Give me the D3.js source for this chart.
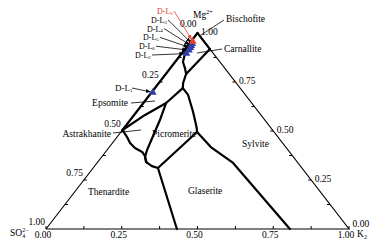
<!DOCTYPE html>
<html><head><meta charset="utf-8">
<script src="https://cdn.jsdelivr.net/npm/d3@7"></script>
<style>
body{margin:0;background:#fff}
svg{display:block}
text{font-family:"Liberation Serif","Times New Roman",serif;font-size:9.5px;fill:#000}
</style>
</head><body><svg id="c" width="385" height="248"></svg>
<script>
// ---- data (Jänecke ternary: K2 fraction, Mg2+ fraction) ----
const majorTicks = [0, 0.25, 0.5, 0.75, 1];
const minorTicks = [0.125, 0.375, 0.625, 0.875];
const bottomLabels = ["0.00", "0.25", "0.50", "0.75", "1.00"];   // K2, SO4 corner -> K2 corner
const leftLabels = ["1.00", "0.75", "0.50", "0.25", "0.00"];     // SO4, SO4 corner -> apex
const rightLabels = ["0.00", "0.25", "0.50", "0.75", "1.00"];    // Mg, K2 corner -> apex

const bndLeftEdge   = [[0, 1], [0, 0.505]];
const bndRightEdge  = [[0, 1], [0.082, 0.918]];
const bndCarnSylv   = [[0.082, 0.918], [0.067, 0.791]];
const bndEpsVert    = [[0, 0.93], [0.010, 0.898], [0.026, 0.852], [0.048, 0.821], [0.067, 0.791], [0.080, 0.745], [0.092, 0.719]];
const bndEpsPicro   = [[0.092, 0.719], [0.075, 0.643], [0.036, 0.582], [0, 0.505]];
const bndPicroLeft  = [[0.075, 0.643], [0.098, 0.556], [0.132, 0.403], [0.143, 0.367], [0.162, 0.340]];
const bndAstrak     = [[0, 0.505], [0.033, 0.469], [0.058, 0.439], [0.087, 0.413], [0.121, 0.393], [0.141, 0.372], [0.159, 0.342], [0.189, 0.321], [0.214, 0.311]];
const bndPicroRight = [[0.092, 0.719], [0.127, 0.684], [0.187, 0.597], [0.240, 0.515], [0.251, 0.495]];
const bndPicroLow   = [[0.214, 0.311], [0.251, 0.495]];
const bndGlasLeft   = [[0.214, 0.311], [0.228, 0.291], [0.432, 0]];
const bndGlasRight  = [[0.251, 0.495], [0.335, 0.418], [0.449, 0.337], [0.805, 0]];

const ptNames = ["D-L0", "D-L3", "D-L4", "D-L5", "D-L6", "D-L2", "D-L1"];
const ptK     = [0.006, 0.010, 0.012, 0.014, 0.016, 0.016, 0.004];
const ptMg    = [0.957, 0.945, 0.935, 0.925, 0.912, 0.895, 0.697];

const regionNames = ["Bischofite", "Carnallite", "Epsomite", "Astrakhanite", "Picromerite", "Thenardite", "Glaserite", "Sylvite"];

// ---- layout ----
const svg = d3.select("#c");
const x = d3.scaleLinear().domain([0, 1]).range([46, 349]);
const y = d3.scaleLinear().domain([0, 1]).range([229, 33]);
const px = (k, m) => x(k + m / 2);
const py = (k, m) => y(m);
const line = d3.line().x(d => px(d[0], d[1])).y(d => py(d[0], d[1]));

const defs = svg.append("defs");
function arrowDef(id, col) {
  defs.append("marker").attr("id", id).attr("viewBox", "0 0 10 10")
    .attr("refX", 9).attr("refY", 5).attr("markerWidth", 5).attr("markerHeight", 5)
    .attr("orient", "auto").attr("markerUnits", "userSpaceOnUse")
    .append("path").attr("d", "M0,1L10,5L0,9z").attr("fill", col);
}
arrowDef("ab", "#000");
arrowDef("ar", "#e8412c");

// triangle frame
svg.append("path").attr("d", line([[0, 0], [1, 0], [0, 1], [0, 0]]))
  .attr("fill", "none").attr("stroke", "#000").attr("stroke-width", 1.1);

// ticks
const tl = 3;
const allT = majorTicks.concat(minorTicks);
const tg = svg.append("g").attr("stroke", "#000").attr("stroke-width", 1);
allT.forEach(t => {
  tg.append("line").attr("x1", px(t, 0)).attr("y1", py(t, 0)).attr("x2", px(t, 0)).attr("y2", py(t, 0) - tl);
  if (t > 0 && t < 1) {
    const lx = px(0, t), ly = py(0, t);
    tg.append("line").attr("x1", lx).attr("y1", ly).attr("x2", lx + tl).attr("y2", ly);
    const rx = px(1 - t, t), ry = py(1 - t, t);
    tg.append("line").attr("x1", rx).attr("y1", ry).attr("x2", rx - tl).attr("y2", ry);
  }
});

// axis labels
majorTicks.forEach((t, i) => {
  svg.append("text").attr("x", px(t, 0) - 3).attr("y", 238).attr("text-anchor", "middle").text(bottomLabels[i]);
  svg.append("text").attr("x", px(0, t) - 1).attr("y", py(0, t) - 4 - (t === 1 ? 2 : 0)).attr("text-anchor", "end").text(leftLabels[i]);
  svg.append("text").attr("x", px(1 - t, t) + 3.5).attr("y", py(1 - t, t) + (t === 0 ? -2 : 1.5)).attr("text-anchor", "start").text(rightLabels[i]);
});

// corner labels
const so4 = svg.append("text").attr("x", 10).attr("y", 236);
so4.append("tspan").text("SO");
so4.append("tspan").attr("font-size", "6px").attr("dy", 2).text("4");
so4.append("tspan").attr("font-size", "6px").attr("dy", -6).attr("dx", -3).text("2−");
const kk = svg.append("text").attr("x", 357).attr("y", 237);
kk.append("tspan").text("K");
kk.append("tspan").attr("font-size", "6px").attr("dy", 2).text("2");
const mg = svg.append("text").attr("x", 193).attr("y", 18);
mg.append("tspan").text("Mg");
mg.append("tspan").attr("font-size", "6px").attr("dy", -4).text("2+");

// phase boundaries
[bndLeftEdge, bndRightEdge, bndCarnSylv, bndEpsVert, bndEpsPicro, bndPicroLeft, bndAstrak,
 bndPicroRight, bndPicroLow, bndGlasLeft, bndGlasRight].forEach(b => {
  svg.append("path").attr("d", line(b)).attr("fill", "none").attr("stroke", "#000")
    .attr("stroke-width", 2.2).attr("stroke-linejoin", "round").attr("stroke-linecap", "round");
});

// region labels with leader lines
const regPos = [[226, 22], [224, 52], [128, 106], [111, 137], [152, 137], [88, 195], [188, 194], [242, 147]];
const regAnchor = ["start", "start", "end", "end", "start", "start", "start", "start"];
regionNames.forEach((n, i) => {
  svg.append("text").attr("x", regPos[i][0]).attr("y", regPos[i][1]).attr("text-anchor", regAnchor[i]).text(n);
});
const leaders = [[[201, 35], [224, 20]], [[197, 53], [222, 49]], [[131, 103], [155, 101]], [[113, 133], [141, 130]]];
leaders.forEach(l => {
  svg.append("line").attr("x1", l[0][0]).attr("y1", l[0][1]).attr("x2", l[1][0]).attr("y2", l[1][1])
    .attr("stroke", "#000").attr("stroke-width", 0.8);
});

// points + labels with arrows
const labPos = [[157, 14], [151, 22.8], [147, 31.6], [143, 40.4], [139, 49.2], [135, 58], [115, 91]];
const sym = d3.symbol().type(d3.symbolTriangle).size(26);
ptNames.forEach((n, i) => {
  const col = i === 0 ? "#e8412c" : "#2f3fa8";
  const cx = px(ptK[i], ptMg[i]), cy = py(ptK[i], ptMg[i]);
  const fs = i === 6 ? 9 : 8;
  const t = svg.append("text").attr("x", labPos[i][0]).attr("y", labPos[i][1])
    .style("font-size", fs + "px").style("fill", i === 0 ? col : "#000");
  t.append("tspan").text(n.slice(0, 3));
  t.append("tspan").attr("font-size", "5px").attr("dy", 0.8).text(n.slice(3));
  const sx = labPos[i][0] + 17, sy = labPos[i][1] - 3;
  const dx = cx - sx, dy = cy - sy, len = Math.hypot(dx, dy);
  svg.append("line").attr("x1", sx).attr("y1", sy)
    .attr("x2", cx - dx / len * 2.5).attr("y2", cy - dy / len * 2.5)
    .attr("stroke", i === 0 ? col : "#000").attr("stroke-width", 0.8)
    .attr("marker-end", i === 0 ? "url(#ar)" : "url(#ab)");
});
ptNames.forEach((n, i) => {
  if (i === 0) return;
  svg.append("path").attr("d", sym).attr("transform", `translate(${px(ptK[i], ptMg[i])},${py(ptK[i], ptMg[i])})`)
    .attr("fill", "#2f3fa8");
});
svg.append("path").attr("d", sym).attr("transform", `translate(${px(ptK[0], ptMg[0])},${py(ptK[0], ptMg[0])})`)
  .attr("fill", "#e8412c");
</script>
</body></html>
